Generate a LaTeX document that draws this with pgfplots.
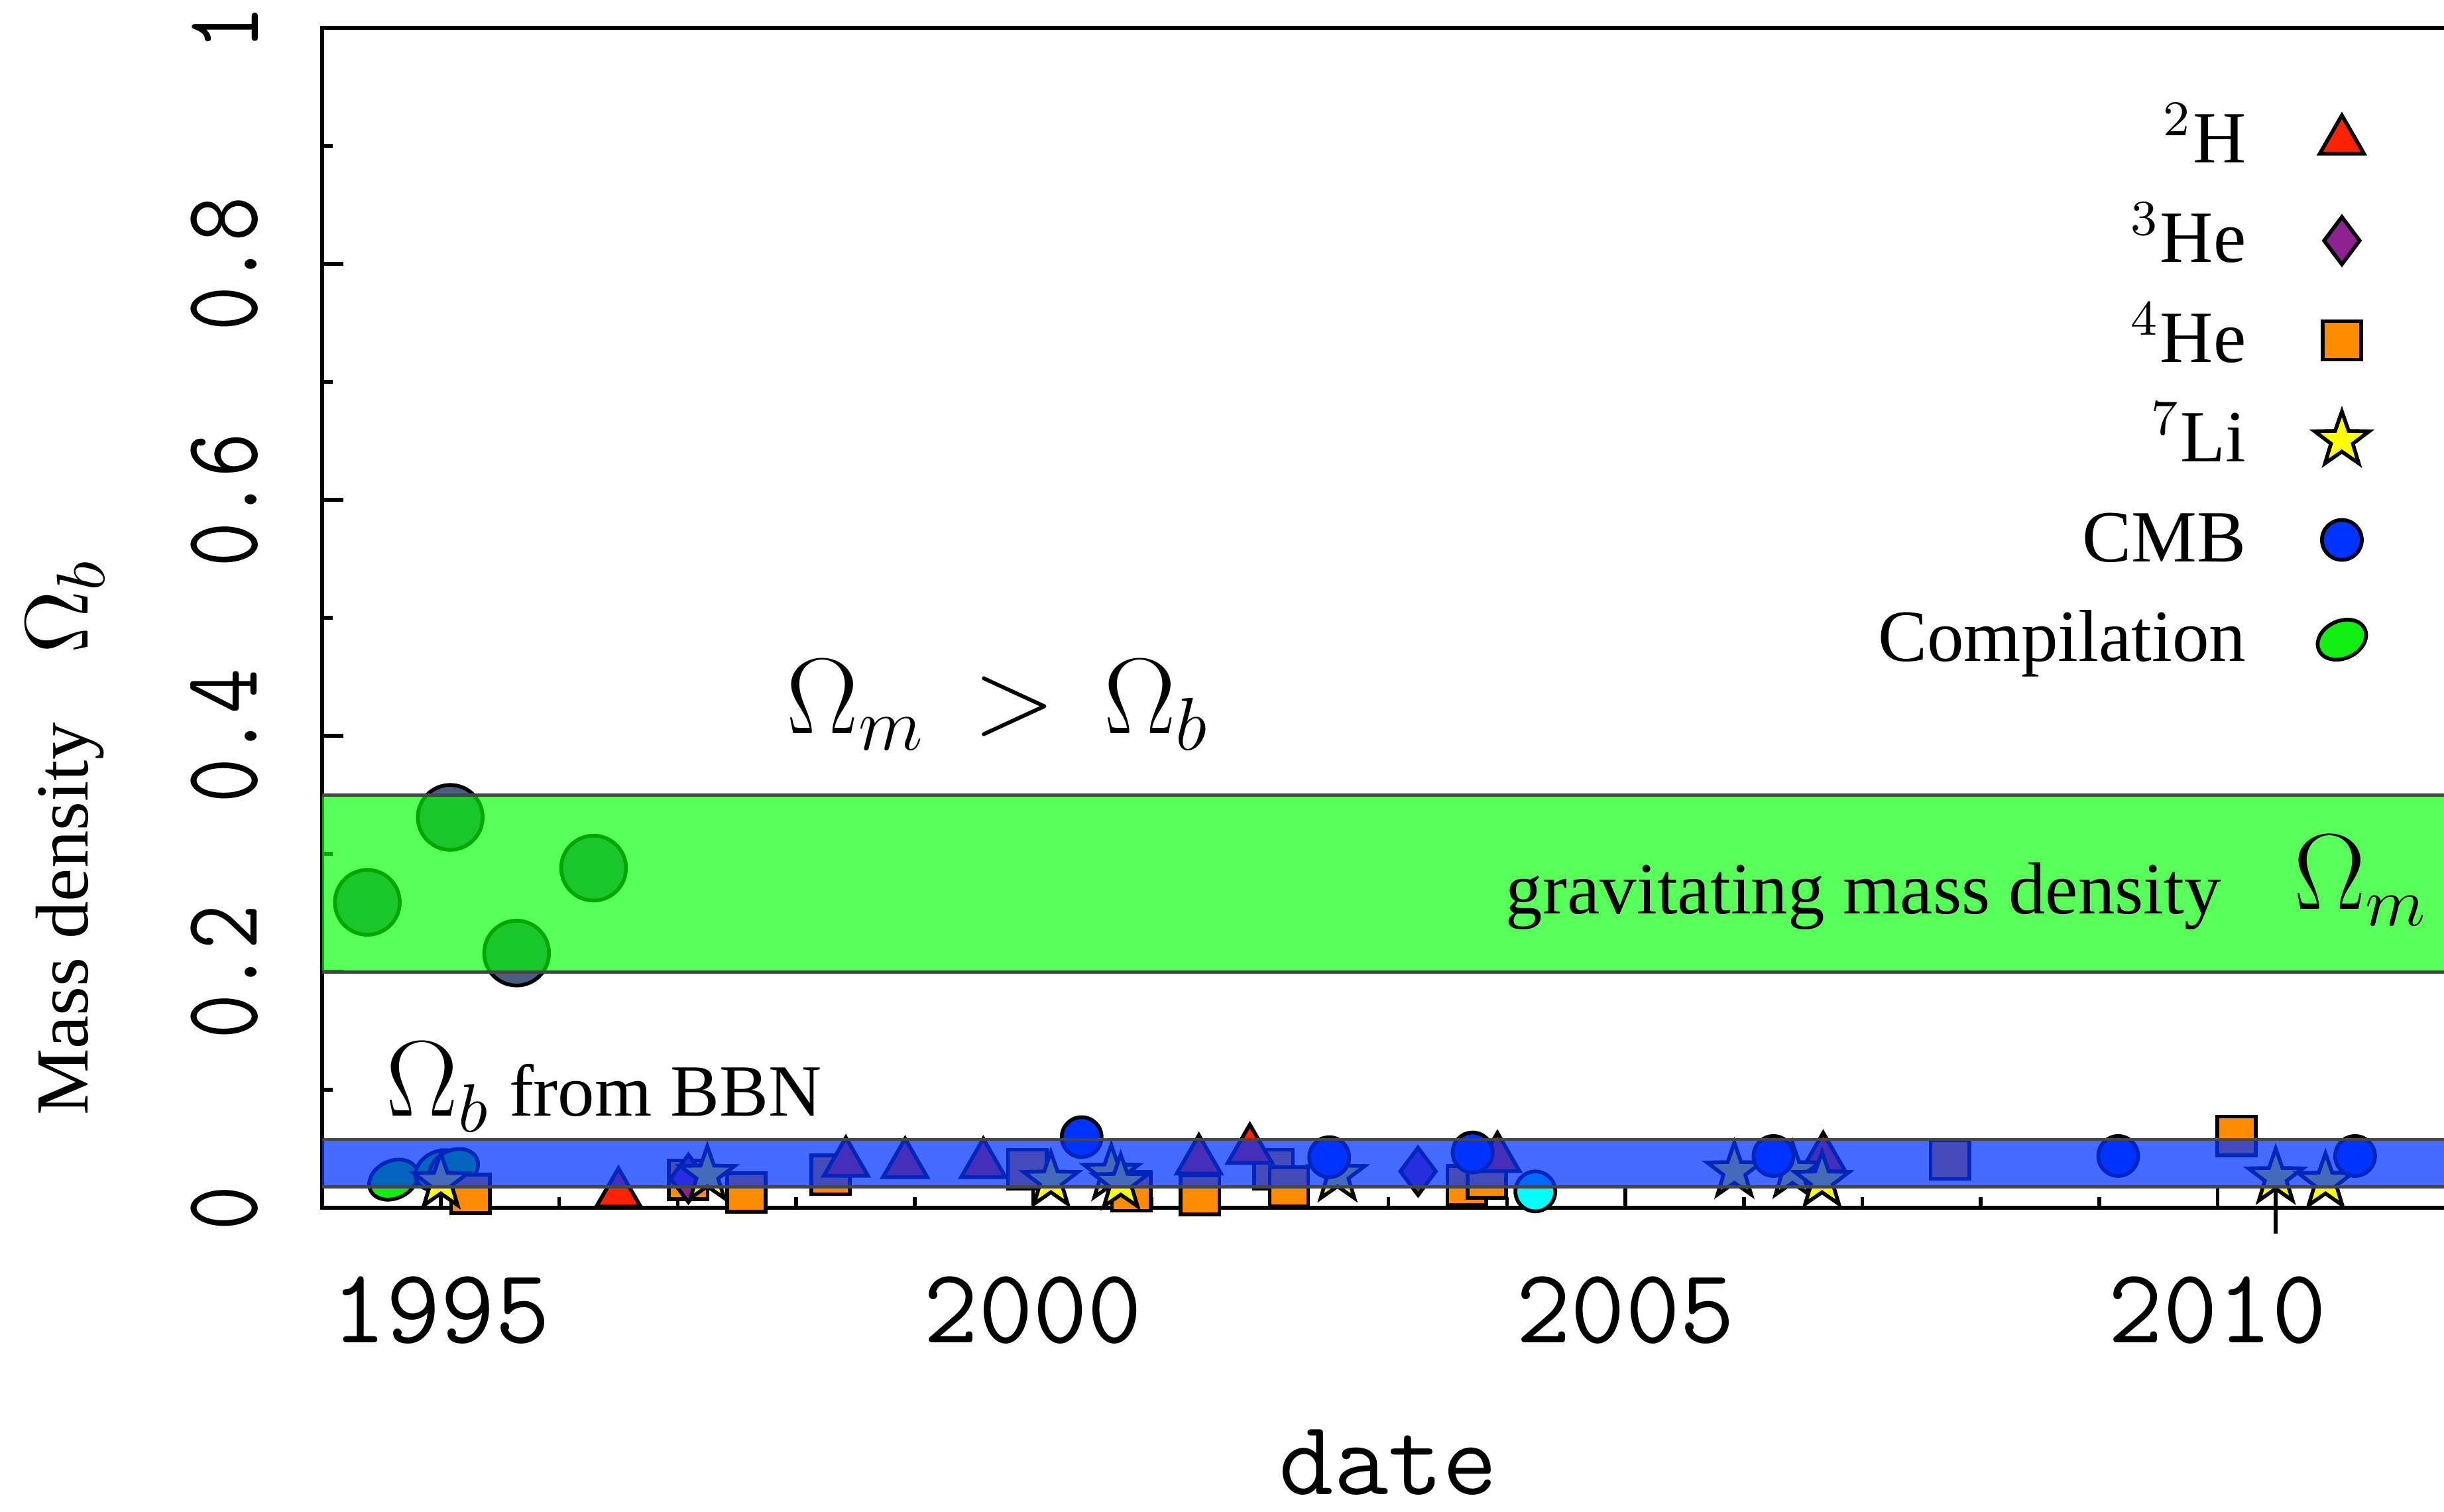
\documentclass[border=0pt]{standalone}
\usepackage{fontspec}
\setmainfont{Liberation Serif}
\usepackage{graphicx}
\usepackage{pgfplots}
\pgfplotsset{compat=1.18}
\usetikzlibrary{plotmarks}

\definecolor{hcol}{HTML}{FF2200}
\definecolor{heiiicol}{HTML}{8E2290}
\definecolor{heivcol}{HTML}{FF8C00}
\definecolor{licol}{HTML}{FFFF00}
\definecolor{cmbcol}{HTML}{0033FF}
\definecolor{compcol}{HTML}{11EE11}
\definecolor{oldcol}{HTML}{4A5F80}
\definecolor{cyancol}{HTML}{00FFFF}
\definecolor{bandgreen}{HTML}{00FF00}
\definecolor{bandblue}{HTML}{0033FF}
\definecolor{bandedge}{HTML}{464646}

% filled five-pointed star
\pgfdeclareplotmark{fstar}{%
  \pgfpathmoveto{\pgfpointpolar{90}{\pgfplotmarksize}}%
  \pgfpathlineto{\pgfpointpolar{126}{0.4\pgfplotmarksize}}%
  \pgfpathlineto{\pgfpointpolar{162}{\pgfplotmarksize}}%
  \pgfpathlineto{\pgfpointpolar{198}{0.4\pgfplotmarksize}}%
  \pgfpathlineto{\pgfpointpolar{234}{\pgfplotmarksize}}%
  \pgfpathlineto{\pgfpointpolar{270}{0.4\pgfplotmarksize}}%
  \pgfpathlineto{\pgfpointpolar{306}{\pgfplotmarksize}}%
  \pgfpathlineto{\pgfpointpolar{342}{0.4\pgfplotmarksize}}%
  \pgfpathlineto{\pgfpointpolar{18}{\pgfplotmarksize}}%
  \pgfpathlineto{\pgfpointpolar{54}{0.4\pgfplotmarksize}}%
  \pgfpathclose
  \pgfusepathqfillstroke}

\pgfplotsset{
  ptH/.style={only marks, mark=triangle*, mark size=4.1pt,
    mark options={fill=hcol, draw=black, line width=0.6pt}},
  ptHeiii/.style={only marks, mark=diamond*, mark size=3.8pt,
    mark options={fill=heiiicol, draw=black, line width=0.6pt}},
  ptHeiv/.style={only marks, mark=square*, mark size=3.1pt,
    mark options={fill=heivcol, draw=black, line width=0.6pt}},
  ptLi/.style={only marks, mark=fstar, mark size=4.6pt,
    mark options={fill=licol, draw=black, line width=0.6pt}},
  ptCMB/.style={only marks, mark=*, mark size=3.2pt,
    mark options={fill=cmbcol, draw=black, line width=0.6pt}},
  ptComp/.style={only marks, mark=*, mark size=3pt,
    mark options={fill=compcol, draw=black, line width=0.6pt, rotate=25, xscale=1.35}},
}

\begin{document}
\begin{tikzpicture}
\begin{axis}[
  name=ax,
  scale only axis,
  width=342pt, height=189.25pt,
  xmin=1994, xmax=2012, ymin=0, ymax=1,
  clip=false,
  clip marker paths=true,
  axis line style={line width=0.6pt},
  tick pos=left,
  tick align=inside,
  xtick={1995,2000,2005,2010},
  minor x tick num=4,
  ytick={0,0.2,0.4,0.6,0.8,1},
  minor y tick num=1,
  major tick length=3.4pt,
  minor tick length=1.7pt,
  tick style={line width=0.6pt, black},
  /pgf/number format/assume math mode=true,
  /pgf/number format/1000 sep={},
  xticklabel style={font=\fontsize{17}{17}\selectfont\ttfamily},
  xticklabel shift=7.5pt,
  yticklabel={\scalebox{0.82}[1]{\pgfmathprintnumber{\tick}}},
  yticklabel style={font=\fontsize{17}{17}\selectfont\ttfamily, rotate=90, anchor=south},
  yticklabel shift=6.8pt,
  xlabel={date},
  xlabel style={font=\fontsize{17}{17}\selectfont\ttfamily,
    at={(rel axis cs:0.5,0)}, anchor=north, yshift=-32pt},
  ylabel={{\fontsize{12}{14}\selectfont Mass density}\hspace{11pt}{\fontsize{15.5}{18}\selectfont$\Omega_b$}},
  ylabel style={at={(rel axis cs:-0.110,0.3144)}, anchor=base},
  legend cell align=right,
  legend plot pos=right,
  legend style={
    at={(rel axis cs:1,1)}, anchor=north east, xshift=-13.7pt, yshift=-11.6pt,
    draw=none, fill=none, inner sep=0pt, outer sep=0pt,
    row sep=3pt, column sep=11pt,
    font=\fontsize{11.8}{14}\selectfont,
    nodes={inner sep=0pt, text height=10pt, text depth=3pt},
  },
]

% legend
\addlegendimage{ptH}
\addlegendentry{$^{2}$H}
\addlegendimage{ptHeiii}
\addlegendentry{$^{3}$He}
\addlegendimage{ptHeiv}
\addlegendentry{$^{4}$He}
\addlegendimage{ptLi}
\addlegendentry{$^{7}$Li}
\addlegendimage{ptCMB}
\addlegendentry{CMB}
\addlegendimage{ptComp}
\addlegendentry{Compilation}

% upper limit line
\addplot[black, line width=0.6pt, forget plot] coordinates {(2010.49,0.026) (2010.49,-0.022)};

% early estimates
\addplot[only marks, mark=*, mark size=5.2pt,
  mark options={fill=oldcol, draw=black, line width=0.6pt}, forget plot]
  coordinates {(1994.38,0.259) (1995.08,0.331) (1995.64,0.216) (1996.29,0.288)};

\addplot[ptComp, forget plot] coordinates {
  (1994.60,0.024) (1994.99,0.032) (1995.11,0.033)};

\addplot[ptHeiv, forget plot] coordinates {
  (1995.25,0.012) (1997.09,0.024) (1997.58,0.013) (1998.29,0.028)
  (1999.95,0.033) (2000.83,0.014) (2001.41,0.011) (2002.03,0.033)
  (2002.16,0.018) (2003.66,0.019) (2003.83,0.025) (2007.74,0.041)
  (2010.16,0.061)};

\addplot[ptHeiii, forget plot] coordinates {
  (1997.09,0.025) (2003.25,0.031)};

\addplot[ptH, forget plot] coordinates {
  (1996.50,0.012) (1998.42,0.038) (1998.92,0.037) (1999.58,0.037)
  (2001.40,0.040) (2001.83,0.049) (2003.92,0.042) (2006.67,0.042)};

\addplot[ptLi, forget plot] coordinates {
  (1995.00,0.022) (1997.25,0.028) (2000.15,0.023) (2000.66,0.029)
  (2000.74,0.021) (2002.57,0.028) (2005.92,0.031) (2006.41,0.031)
  (2006.66,0.023) (2010.49,0.026) (2010.91,0.022)};

\addplot[ptCMB, forget plot] coordinates {
  (2000.41,0.060) (2002.50,0.043) (2003.71,0.047) (2006.25,0.044)
  (2009.16,0.044) (2011.16,0.044)};

\addplot[only marks, mark=*, mark size=3.2pt,
  mark options={fill=cyancol, draw=black, line width=0.6pt}, forget plot]
  coordinates {(2004.24,0.014)};

% bands, drawn over the points
\addplot[draw=none, fill=bandgreen, fill opacity=0.65, forget plot]
  coordinates {(1994,0.2) (2012,0.2) (2012,0.35) (1994,0.35)} -- cycle;
\addplot[draw=none, fill=bandblue, fill opacity=0.73, forget plot]
  coordinates {(1994,0.018) (2012,0.018) (2012,0.058) (1994,0.058)} -- cycle;
\addplot[bandedge, line width=0.5pt, forget plot] coordinates {(1994,0.2) (2012,0.2)};
\addplot[bandedge, line width=0.5pt, forget plot] coordinates {(1994,0.35) (2012,0.35)};
\addplot[bandedge, line width=0.5pt, forget plot] coordinates {(1994,0.018) (2012,0.018)};
\addplot[bandedge, line width=0.5pt, forget plot] coordinates {(1994,0.058) (2012,0.058)};

% annotations
\node[anchor=base west, inner sep=0pt, font=\fontsize{17}{18}\selectfont]
  at (axis cs:1997.91,0.402) {$\Omega_m\,>\,\Omega_b$};
\node[anchor=base east, inner sep=0pt, font=\fontsize{11.8}{14}\selectfont]
  at (axis cs:2010.04,0.2494) {gravitating mass density};
\node[anchor=base west, inner sep=0pt, font=\fontsize{16}{18}\selectfont]
  at (axis cs:2010.63,0.253) {$\Omega_m$};
\node[anchor=base west, inner sep=0pt, font=\fontsize{11.8}{14}\selectfont]
  at (axis cs:1994.53,0.078) {{\fontsize{16}{18}\selectfont$\Omega_b$} from BBN};
\end{axis}
\pgfresetboundingbox
\path[use as bounding box] ([shift={(-51.7pt,-48.75pt)}]ax.south west)
  rectangle ([shift={(-1.7pt,4.5pt)}]ax.north east);
\end{tikzpicture}
\end{document}
